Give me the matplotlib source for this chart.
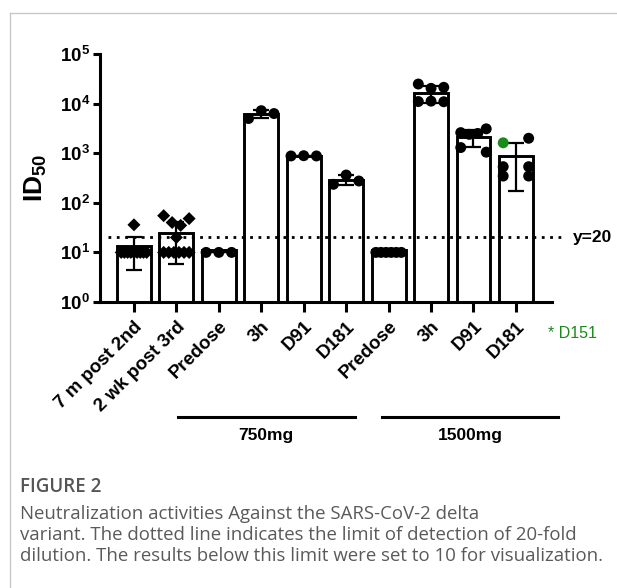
import numpy as np
import matplotlib
matplotlib.use('Agg')
import matplotlib.pyplot as plt
from matplotlib.lines import Line2D
from matplotlib.ticker import NullLocator

plt.rcParams['font.family'] = ['Liberation Sans', 'DejaVu Sans']
plt.rcParams['mathtext.fontset'] = 'custom'
plt.rcParams['mathtext.rm'] = 'Liberation Sans:bold'
plt.rcParams['mathtext.it'] = 'Liberation Sans:bold'
plt.rcParams['mathtext.bf'] = 'Liberation Sans:bold'

# data (ID50 per subject)
labels = ['7 m post 2nd', '2 wk post 3rd', 'Predose', '3h', 'D91', 'D181',
          'Predose', '3h', 'D91', 'D181']
post_2nd = [36, 10, 10, 10, 10, 10, 10, 10, 10, 10]
post_3rd = [55, 40, 35, 48, 20, 10, 10, 10, 10, 10, 10]
mg750_predose = [10, 10, 10]
mg750_3h = [5000, 7200, 6300]
mg750_d91 = [880, 890, 880]
mg750_d181 = [236, 363, 275]
mg1500_predose = [10, 10, 10, 10, 10, 10]
mg1500_3h = [24800, 20300, 21300, 11000, 11200, 10900]
mg1500_d91 = [2600, 2400, 2500, 3100, 1300, 1050]
mg1500_d181 = [1620, 2000, 535, 535, 346, 346]
groups = [post_2nd, post_3rd, mg750_predose, mg750_3h, mg750_d91, mg750_d181,
          mg1500_predose, mg1500_3h, mg1500_d91, mg1500_d181]
diamond_groups = [0, 1]
d151_point = (9, 0)   # the D151 sample, shown in green
lod = 20
dose_names = ['750mg', '1500mg']

# where the dose brackets sit under the tick labels (x in bar units)
bracket_spans = [(1.04, 5.2), (5.84, 9.99)]

green = '#1a8a1a'


def spread(vals, gap=0.15, width=0.6):
    # put points with close values side by side (like a column scatter)
    logs = np.log10(vals)
    order = np.argsort(-logs, kind='stable')
    rows = [[order[0]]]
    for i in order[1:]:
        if logs[rows[-1][-1]] - logs[i] < gap:
            rows[-1].append(i)
        else:
            rows.append([i])
    offs = np.zeros(len(vals))
    for r in rows:
        r = sorted(r)
        if len(r) > 1:
            offs[r] = np.linspace(-width / 2, width / 2, len(r))
    return offs


fig = plt.figure(figsize=(6.17, 5.88), dpi=100)
ax = fig.add_axes([100 / 617, 1 - 302 / 588, 452 / 617, 248 / 588])

x = np.arange(len(groups))
means = [np.mean(g) for g in groups]
sds = [np.std(g, ddof=1) for g in groups]

ax.bar(x, means, width=0.8, bottom=1, color='white', edgecolor='black',
       linewidth=2.1, zorder=2)
ax.errorbar(x, means, yerr=sds, fmt='none', ecolor='black', elinewidth=1.6,
            capsize=6, capthick=1.6, zorder=4)

for i, g in enumerate(groups):
    offs = spread(g)
    cols = ['black'] * len(g)
    if d151_point[0] == i:
        cols[d151_point[1]] = green
    if i in diamond_groups:
        ax.scatter(i + offs, g, marker='D', s=44, c=cols, zorder=5, linewidths=0)
    else:
        ax.scatter(i + offs, g, marker='o', s=62, c=cols, zorder=5, linewidths=0)

ax.set_yscale('log')
ax.set_ylim(1, 1e5)
ax.set_xlim(-0.8, 9.85)
ax.set_yticks([10 ** k for k in range(6)],
              labels=[r'$10^{%d}$' % k for k in range(6)])
ax.yaxis.set_minor_locator(NullLocator())
ax.set_xticks(x)
ax.set_xticklabels(labels, rotation=45, ha='right', rotation_mode='anchor',
                   fontsize=13.5, fontweight='bold')
ax.tick_params(axis='y', labelsize=13.5, width=2.2, length=5, pad=2)
ax.tick_params(axis='x', width=2.2, length=7, pad=4.5)
for s in ['top', 'right']:
    ax.spines[s].set_visible(False)
for s in ['left', 'bottom']:
    ax.spines[s].set_linewidth(2.2)
ax.set_ylabel(r'$ID_{50}$', fontsize=19, labelpad=8)

# detection limit
ax.plot([-0.6, 10.15], [lod, lod], color='black', lw=2,
        linestyle=(0, (1, 2)), clip_on=False, zorder=3)
ax.text(10.35, lod, 'y=20', fontsize=12.5, fontweight='bold', va='center')
ax.text(9.75, -0.125, '* D151', transform=ax.get_xaxis_transform(),
        fontsize=11.5, color=green, va='center')

# dose group brackets
tr = ax.get_xaxis_transform()
for name, (x0, x1) in zip(dose_names, bracket_spans):
    ax.plot([x0, x1], [-0.462, -0.462], color='black', lw=2.2,
            transform=tr, clip_on=False)
    ax.text((x0 + x1) / 2, -0.54, name, transform=tr, ha='center',
            va='center', fontsize=12.5, fontweight='bold')

# frame of the figure panel
fig.add_artist(Line2D([10 / 617, 10 / 617], [0, 1 - 13 / 588],
                      color='#c8c8c8', lw=1))
fig.add_artist(Line2D([10 / 617, 1], [1 - 13 / 588, 1 - 13 / 588],
                      color='#c8c8c8', lw=1))

# caption
fig.text(20 / 617, 1 - 487 / 588, 'FIGURE 2', fontsize=13.5, color='#555555',
         family=['Open Sans', 'DejaVu Sans'], fontweight='semibold', va='center')
caption = ['Neutralization activities Against the SARS-CoV-2 delta',
           'variant. The dotted line indicates the limit of detection of 20-fold',
           'dilution. The results below this limit were set to 10 for visualization.']
for k, line in enumerate(caption):
    fig.text(20 / 617, 1 - (514 + 21 * k) / 588, line, fontsize=13.4,
             color='#5a5a5a', family=['Open Sans', 'DejaVu Sans'], va='center')

fig.savefig('out.png', dpi=100)
